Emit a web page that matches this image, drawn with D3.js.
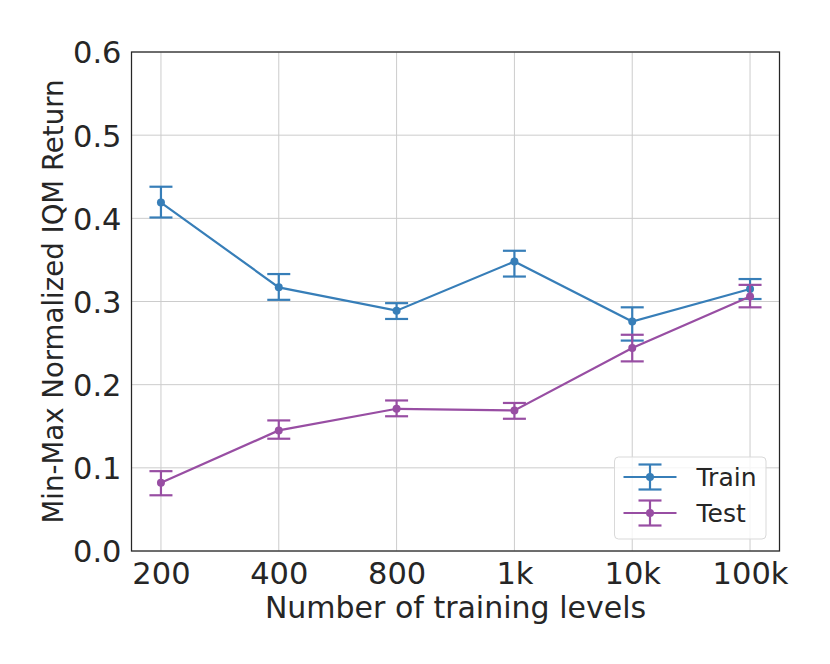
<!DOCTYPE html>
<html lang="en">
<head>
    <meta charset="utf-8">
    <title>IQM Return vs training levels</title>
    <style>
        body { margin: 0; background: #fff; }
        .chart text { font-family: "DejaVu Sans", sans-serif; fill: #262626; }
        .chart .grid line { stroke: #cccccc; stroke-width: 1; }
        .chart .domain { display: none; }
    </style>
</head>
<body>
<div id="chart" class="chart"></div>

<script src="https://d3js.org/d3.v7.min.js"></script>
<script>
    // data
    var levels = ["200", "400", "800", "1k", "10k", "100k"];
    var trainMean = [0.419, 0.317, 0.289, 0.348, 0.276, 0.315];
    var trainLow  = [0.401, 0.302, 0.279, 0.330, 0.253, 0.303];
    var trainHigh = [0.438, 0.333, 0.298, 0.361, 0.293, 0.327];
    var testMean  = [0.082, 0.145, 0.171, 0.169, 0.244, 0.306];
    var testLow   = [0.067, 0.135, 0.162, 0.159, 0.228, 0.293];
    var testHigh  = [0.096, 0.157, 0.181, 0.178, 0.260, 0.320];
    var yTicks = [0.0, 0.1, 0.2, 0.3, 0.4, 0.5, 0.6];

    var series = [
        {name: "Train", color: "#377eb8", mean: trainMean, low: trainLow, high: trainHigh},
        {name: "Test", color: "#984ea3", mean: testMean, low: testLow, high: testHigh}
    ];

    var W = 830, H = 664;
    var margin = {top: 52, right: 50.5, bottom: 113, left: 131.5};
    var width = W - margin.left - margin.right,
        height = H - margin.top - margin.bottom;

    var svg = d3.select("#chart").append("svg")
        .attr("width", W).attr("height", H);
    var g = svg.append("g")
        .attr("transform", "translate(" + margin.left + "," + margin.top + ")");

    var x = d3.scalePoint().domain(levels).range([0, width]).padding(0.25);
    var y = d3.scaleLinear().domain([0, 0.6]).range([height, 0]);

    // grid
    g.append("g").attr("class", "grid")
        .selectAll("line.gx").data(levels).enter().append("line")
        .attr("x1", function (d) { return x(d); }).attr("x2", function (d) { return x(d); })
        .attr("y1", 0).attr("y2", height);
    g.append("g").attr("class", "grid")
        .selectAll("line.gy").data(yTicks).enter().append("line")
        .attr("x1", 0).attr("x2", width)
        .attr("y1", function (d) { return y(d); }).attr("y2", function (d) { return y(d); });

    // axes
    var yAxis = d3.axisLeft(y).tickValues(yTicks).tickFormat(d3.format(".1f")).tickSize(0).tickPadding(10);
    var xAxis = d3.axisBottom(x).tickSize(0).tickPadding(11);
    g.append("g").call(yAxis).selectAll("text")
        .style("font-size", "30.5px").attr("dy", "0.36em");
    g.append("g").attr("transform", "translate(0," + height + ")").call(xAxis)
        .selectAll("text").style("font-size", "30.5px");

    // frame
    g.append("rect").attr("width", width).attr("height", height)
        .attr("fill", "none").attr("stroke", "#262626").attr("stroke-width", 1.25);

    // series
    var line = d3.line()
        .x(function (d, i) { return x(levels[i]); })
        .y(function (d) { return y(d); });

    series.forEach(function (s) {
        var sg = g.append("g");
        sg.append("path").datum(s.mean).attr("d", line)
            .attr("fill", "none").attr("stroke", s.color).attr("stroke-width", 2.2);
        var eb = sg.selectAll("g.eb").data(levels).enter().append("g")
            .attr("stroke", s.color).attr("stroke-width", 2.2);
        eb.append("line")
            .attr("x1", function (d) { return x(d); }).attr("x2", function (d) { return x(d); })
            .attr("y1", function (d, i) { return y(s.low[i]); })
            .attr("y2", function (d, i) { return y(s.high[i]); });
        eb.append("line")
            .attr("x1", function (d) { return x(d) - 11.5; }).attr("x2", function (d) { return x(d) + 11.5; })
            .attr("y1", function (d, i) { return y(s.low[i]); })
            .attr("y2", function (d, i) { return y(s.low[i]); });
        eb.append("line")
            .attr("x1", function (d) { return x(d) - 11.5; }).attr("x2", function (d) { return x(d) + 11.5; })
            .attr("y1", function (d, i) { return y(s.high[i]); })
            .attr("y2", function (d, i) { return y(s.high[i]); });
        sg.selectAll("circle").data(s.mean).enter().append("circle")
            .attr("cx", function (d, i) { return x(levels[i]); })
            .attr("cy", function (d) { return y(d); })
            .attr("r", 4).attr("fill", s.color);
    });

    // labels
    g.append("text").attr("x", width / 2).attr("y", height + 67)
        .attr("text-anchor", "middle").style("font-size", "30px")
        .text("Number of training levels");
    g.append("text")
        .attr("transform", "translate(" + (62.5 - margin.left) + "," + (height / 2) + ") rotate(-90)")
        .attr("text-anchor", "middle").style("font-size", "27.6px")
        .text("Min-Max Normalized IQM Return");

    // legend
    var lg = svg.append("g").attr("transform", "translate(614.5,457)");
    lg.append("rect").attr("width", 151.5).attr("height", 82).attr("rx", 4)
        .attr("fill", "#fff").attr("fill-opacity", 0.8)
        .attr("stroke", "#d9d9d9").attr("stroke-width", 1);
    series.forEach(function (s, i) {
        var row = lg.append("g").attr("transform", "translate(0," + (20 + i * 36) + ")")
            .attr("stroke", s.color).attr("stroke-width", 2.2);
        row.append("line").attr("x1", 9).attr("x2", 62);
        row.append("line").attr("x1", 35.5).attr("x2", 35.5).attr("y1", -12.5).attr("y2", 12.5);
        row.append("line").attr("x1", 24).attr("x2", 47).attr("y1", -12.5).attr("y2", -12.5);
        row.append("line").attr("x1", 24).attr("x2", 47).attr("y1", 12.5).attr("y2", 12.5);
        row.append("circle").attr("cx", 35.5).attr("r", 4).attr("fill", s.color).attr("stroke", "none");
        lg.append("text").attr("x", 82).attr("y", 20 + i * 36).attr("dy", "0.36em")
            .style("font-size", "25px").text(s.name);
    });
</script>
</body>
</html>
